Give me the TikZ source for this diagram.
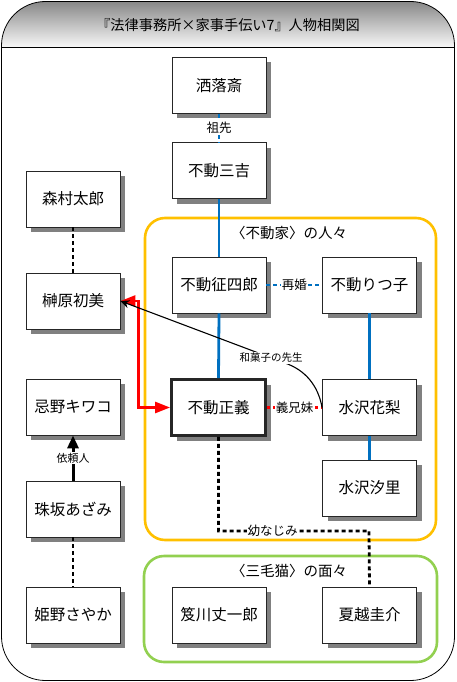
\documentclass[tikz,border=0pt]{standalone}
\usepackage{fontspec}
\setmainfont{Noto Sans CJK JP}
\usetikzlibrary{arrows.meta,shadows}
\definecolor{frblue}{HTML}{0070C0}
\definecolor{frorange}{HTML}{FFC000}
\definecolor{frgreen}{HTML}{92D050}
\definecolor{frred}{HTML}{FF0000}
\begin{document}
\begin{tikzpicture}[x=1pt,y=-1pt,
  box/.style={draw=black!85, line width=0.8pt, fill=white, minimum width=94pt, minimum height=56pt, inner sep=0pt,
    font=\fontsize{15.5}{18}\selectfont,
    general shadow={fill=black!50, draw=none, shadow xshift=5pt, shadow yshift=-5pt}},
  mainbox/.style={box, line width=2.8pt},
  lbl/.style={fill=white, inner sep=1pt, font=\fontsize{12.5}{14}\selectfont},
  slbl/.style={fill=white, inner sep=1pt, font=\fontsize{10.5}{12}\selectfont},
  grp/.style={line width=2.6pt, rounded corners=20pt},
  grptitle/.style={font=\fontsize{14.5}{16}\selectfont},
  blueline/.style={draw=frblue, line width=2.8pt},
  bluedash/.style={draw=frblue, line width=2.8pt, dash pattern=on 4pt off 3pt},
  blackdash/.style={draw=black, line width=2.8pt, dash pattern=on 4pt off 3pt},
  reddash/.style={draw=frred, line width=2.2pt, dash pattern=on 3pt off 3pt},
]
\useasboundingbox (0,0) rectangle (456,682);
% frame and header
\begin{scope}
  \clip[rounded corners=44pt] (1.5,1.5) rectangle (454.5,680.5);
  \shade[top color=black!48, bottom color=black!3] (0,0) rectangle (456,47);
\end{scope}
\draw[line width=0.8pt, rounded corners=44pt] (1.5,1.5) rectangle (454.5,680.5);
\draw[line width=0.8pt] (1.5,47) -- (454.5,47);
\node[font=\fontsize{14.2}{16}\selectfont] (title) at (228,25) {『法律事務所×家事手伝い7』人物相関図};
% groups
\draw[grp, draw=frorange] (145,218) rectangle (436,540);
\node[grptitle] (fudoke) at (289,233) {〈不動家〉の人々};
\draw[grp, draw=frgreen] (144,556) rectangle (437,662);
\node[grptitle] (mikeneko) at (289,571) {〈三毛猫〉の面々};
% boxes
\node[box] (sharaku) at (219,85.5) {洒落斎};
\node[box] (sankichi) at (219,170.5) {不動三吉};
\node[box] (seishiro) at (219,285) {不動征四郎};
\node[box] (ritsuko) at (369.5,285) {不動りつ子};
\node[mainbox] (masayoshi) at (218.5,407.5) {不動正義};
\node[box] (karin) at (369.5,407.5) {水沢花梨};
\node[box] (shiori) at (369.5,488) {水沢汐里};
\node[box] (morimura) at (73,199) {森村太郎};
\node[box] (sakakibara) at (73,301) {榊原初美};
\node[box] (imawano) at (73,407) {忌野キワコ};
\node[box] (tamasaka) at (73,509) {珠坂あざみ};
\node[box] (himeno) at (73,615) {姫野さやか};
\node[box] (oikawa) at (219,615) {笈川丈一郎};
\node[box] (natsugoshi) at (369.5,615) {夏越圭介};
% connectors
\draw[bluedash] (sharaku.south) -- node[lbl] {祖先} (sankichi.north);
\draw[blueline] (sankichi.south) -- (seishiro.north);
\draw[blueline] (seishiro.south) -- (masayoshi.north);
\draw[bluedash] (seishiro.east) -- node[lbl] {再婚} (ritsuko.west);
\draw[blueline] (ritsuko.south) -- (karin.north);
\draw[blueline] (karin.south) -- (shiori.north);
\draw[reddash] (masayoshi.east) -- node[lbl] {義兄妹} (karin.west);
\draw[blackdash] (morimura.south) -- (sakakibara.north);
\draw[blackdash] (tamasaka.south) -- (himeno.north);
\draw[line width=3pt, -{Triangle[length=13pt,width=11pt]}] (tamasaka.north) -- node[lbl, font=\fontsize{11}{13}\selectfont] {依頼人} (imawano.south);
\draw[frred, line width=2.6pt, {Triangle[length=15pt,width=11pt]}-{Triangle[length=15pt,width=11pt]}]
  (sakakibara.east) -- ++(18,0) |- (masayoshi.west);
\draw[line width=1.1pt, -{Stealth[length=9pt,width=8pt]}]
  (karin.west) .. controls (318,385) and (305,370) .. (285,363) -- (sakakibara.east);
\node[slbl] (wagashi) at (271,358) {和菓子の先生};
\draw[blackdash] (masayoshi.south) -- ++(0,94) -- node[lbl, pos=0.36] {幼なじみ} ++(150.5,0) -- (natsugoshi.north);
\end{tikzpicture}
\end{document}
